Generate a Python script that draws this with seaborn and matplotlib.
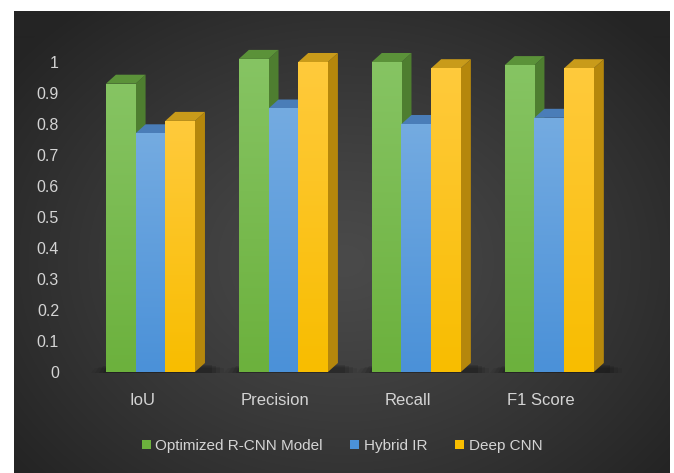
import numpy as np
import pandas as pd
import matplotlib
matplotlib.use("Agg")
import matplotlib.pyplot as plt
import matplotlib.colors as mcolors
import seaborn as sns
from matplotlib.patches import Polygon
from matplotlib.transforms import ScaledTranslation

# ---------------- data ----------------
categories = ["IoU", "Precision", "Recall", "F1 Score"]
models = ["Optimized R-CNN Model", "Hybrid IR", "Deep CNN"]
rcnn_scores = [0.93, 1.01, 1.00, 0.99]
hybrid_scores = [0.77, 0.85, 0.80, 0.82]
deepcnn_scores = [0.81, 1.00, 0.98, 0.98]
yticks = [0, 0.1, 0.2, 0.3, 0.4, 0.5, 0.6, 0.7, 0.8, 0.9, 1.0]
ytick_labels = ["0", "0.1", "0.2", "0.3", "0.4", "0.5", "0.6", "0.7", "0.8", "0.9", "1"]

df = pd.DataFrame({
    "Metric": categories * 3,
    "Model": [m for m in models for _ in categories],
    "Score": rcnn_scores + hybrid_scores + deepcnn_scores,
})

# ---------------- style ----------------
front_bottom = ["#6cb13d", "#4b91d8", "#f8bd00"]
front_top = ["#86c463", "#74abe1", "#ffca3c"]
side_cols = ["#4e7e30", "#3a6ca1", "#b5870c"]
top_cols = ["#5b9239", "#4a7db8", "#c99b1a"]
text_col = "#d4d4d4"

sns.set_theme(style="white")
plt.rcParams["font.family"] = ["Liberation Sans", "DejaVu Sans"]

W, H = 674, 473
fig = plt.figure(figsize=(W / 100, H / 100), dpi=100)
fig.patch.set_facecolor("white")

# dark radial background
bg = fig.add_axes([14 / W, 0, 656 / W, 462 / H])
bh, bw = 462, 656
yy, xx = np.mgrid[0:bh, 0:bw]
cx, cy = 330, 250
r = np.sqrt(((xx - cx) / 420.0) ** 2 + ((yy - cy) / 330.0) ** 2)
v = (0x4a - (0x4a - 0x24) * np.clip(r, 0, 1) ** 1.2) / 255.0
bg.imshow(np.dstack([v, v, v]), aspect="auto", interpolation="bilinear")
bg.axis("off")

# main axes
y0_px, y1_px = 372, 47
ax = fig.add_axes([66 / W, (H - y0_px) / H, 583 / W, (y0_px - y1_px) / H])
ax.patch.set_alpha(0)

sns.barplot(data=df, x="Metric", y="Score", hue="Model", palette=front_bottom,
            width=0.67, saturation=1, linewidth=0, ax=ax, errorbar=None)

handles, labels = ax.get_legend_handles_labels()
if ax.get_legend() is not None:
    ax.get_legend().remove()

xlim = (-0.635, 3.75)
ylim = (0, (y0_px - y1_px) / 310.0)
ax.set_xlim(*xlim)
ax.set_ylim(*ylim)
fig.canvas.draw()

# depth offsets (pixels -> data)
inv = ax.transData.inverted()
p0 = ax.transData.transform((0, 0))
ddx, ddy = inv.transform(p0 + np.array([10.0, 9.0])) - inv.transform(p0)

# soft floor shadows per group
for ci in range(len(categories)):
    gp = [ax.containers[h][ci] for h in range(len(models))]
    gx0 = gp[0].get_x()
    gx1 = gp[-1].get_x() + gp[-1].get_width()
    for k, a in enumerate([0.06, 0.08, 0.10, 0.12]):
        e = 0.11 - 0.03 * k
        shadow = Polygon([(gx0 - e, -0.003), (gx1 + ddx + e + 0.03, -0.003),
                          (gx1 + ddx + e + 0.03, ddy * (0.5 + 0.1 * k)),
                          (gx0 - e + 0.03, ddy * (0.5 + 0.1 * k))],
                         closed=True, facecolor="black", edgecolor="none", alpha=a,
                         zorder=1, clip_on=False)
        ax.add_patch(shadow)

grad = np.linspace(0, 1, 64).reshape(-1, 1)
for h, cont in enumerate(ax.containers):
    c_top = np.array(mcolors.to_rgb(front_top[h]))
    c_bot = np.array(mcolors.to_rgb(front_bottom[h]))
    for patch in cont:
        x0 = patch.get_x()
        w = patch.get_width()
        hh = patch.get_height()
        x1 = x0 + w
        zb = 2 + 3 * h
        side = Polygon([(x1, 0), (x1 + ddx, ddy), (x1 + ddx, hh + ddy), (x1, hh)],
                       closed=True, facecolor=side_cols[h], edgecolor="none",
                       zorder=zb, clip_on=False)
        top = Polygon([(x0, hh), (x0 + ddx, hh + ddy), (x1 + ddx, hh + ddy), (x1, hh)],
                      closed=True, facecolor=top_cols[h], edgecolor="none",
                      zorder=zb, clip_on=False)
        ax.add_patch(side)
        ax.add_patch(top)
        patch.set_zorder(zb + 1)
        patch.set_clip_on(False)
        img = c_top[None, None, :] * (1 - grad[:, :, None]) + c_bot[None, None, :] * grad[:, :, None]
        im = ax.imshow(img, extent=(x0, x1, 0, hh), aspect="auto", zorder=zb + 1.5,
                       interpolation="bilinear", origin="upper")
        im.set_clip_path(patch)
        im.set_clip_on(True)

ax.set_xlim(*xlim)
ax.set_ylim(*ylim)

# axes styling
for s in ax.spines.values():
    s.set_visible(False)
ax.grid(False)
ax.set_xlabel("")
ax.set_ylabel("")
ax.set_yticks(yticks)
ax.set_yticklabels(ytick_labels, color=text_col, fontsize=11.5)
ax.set_xticks(range(len(categories)))
ax.set_xticklabels(categories, color=text_col, fontsize=12)
ax.tick_params(axis="y", length=0, pad=5)
ax.tick_params(axis="x", length=0, pad=15)
for lbl in ax.get_xticklabels():
    lbl.set_transform(lbl.get_transform() + ScaledTranslation(-6 / 72, 0, fig.dpi_scale_trans))

leg = fig.legend(handles, labels, loc="center", bbox_to_anchor=(342 / W, (H - 446) / H),
                 ncol=3, frameon=False, fontsize=11, labelcolor=text_col,
                 handlelength=0.6, handleheight=0.6, handletextpad=0.3,
                 columnspacing=1.8)
for hd, col in zip(leg.legend_handles, front_bottom):
    hd.set_facecolor(col)
    hd.set_edgecolor("none")

fig.savefig("out.png", dpi=100, facecolor="white")
